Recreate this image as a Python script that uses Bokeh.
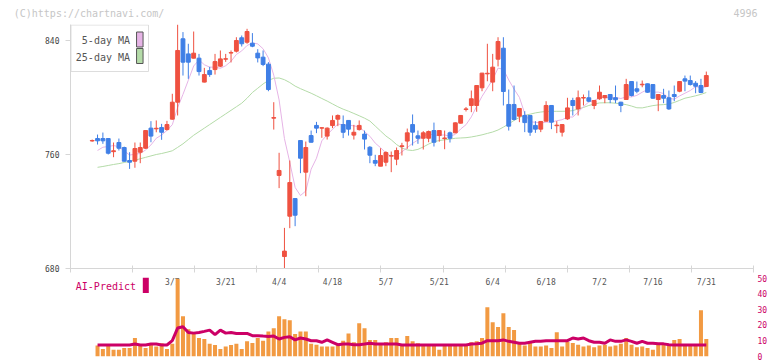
import math
from bokeh.plotting import figure
from bokeh.models import Range1d, FixedTicker, ColumnDataSource, LinearAxis
from bokeh.layouts import column
from bokeh.embed import file_html
from bokeh.resources import INLINE
from bokeh.core.properties import value

# ---------------- data ----------------
NAN = float("nan")
OPEN = [769.5, 771.2, 771.2, 771.2, 762.0, 768.4, 764.9, 755.8, 755.3, 761.6,
        764.4, 778.5, 778.0, 778.9, 777.5, 784.8, 796.7, 841.2, 830.6, 827.6,
        827.6, 810.8, 818.9, 819.6, 822.0, 826.9, 831.2, 832.5, 841.9, 838.8,
        838.1, 831.1, 828.3, 823.4, 785.5, 745.3, 688.4, 716.7, 729.1, 769.8,
        747.6, 773.3, 780.4, 778.5, 772.9, 780.3, 784.8, 781.0, 783.9, 773.6,
        777.5, 774.3, 765.1, 755.8, 751.8, 754.6, 758.9, 756.7, 765.6, 769.4,
        781.0, 773.1, 771.4, 771.4, 776.8, 773.3, 771.2, 775.2, 775.2, 782.0,
        791.6, 794.4, 794.4, 806.8, 816.6, 810.8, 826.9, 834.6, 795.1, 795.1,
        786.9, 787.4, 787.4, 780.4, 777.8, 783.4, 794.4, 780.2, 775.7, 785.0,
        797.9, 792.0, 799.6, 799.8, 794.4, 799.1, 799.8, 802.1, 799.8, 796.7,
        798.6, 811.2, 806.1, 808.9, 809.6, 809.1, 798.6, 801.4, 799.8, 802.1,
        804.4, 813.1, 811.9, 810.0, 808.4, 807.7]
HIGH = [770.5, 774.0, 775.4, 771.5, 768.4, 771.2, 765.5, 761.6, 768.4, 768.4,
        777.0, 783.4, 783.9, 781.5, 783.6, 802.6, 851.2, 845.9, 837.7, 846.3,
        830.6, 820.8, 821.5, 830.6, 833.0, 830.6, 833.0, 842.3, 843.5, 848.2,
        845.2, 833.9, 833.0, 824.8, 796.7, 761.2, 708.5, 755.8, 729.3, 770.0,
        769.1, 776.8, 782.9, 779.0, 779.0, 787.4, 788.1, 787.4, 784.0, 780.8,
        783.9, 776.8, 765.9, 759.8, 764.4, 762.3, 762.1, 764.9, 768.2, 778.2,
        788.1, 776.8, 776.4, 776.8, 782.4, 777.0, 776.8, 776.1, 782.5, 787.6,
        793.3, 804.9, 808.6, 817.3, 837.7, 830.6, 842.3, 842.3, 805.6, 808.4,
        792.5, 790.4, 787.6, 783.4, 783.4, 797.4, 794.6, 783.4, 781.2, 799.8,
        799.8, 804.9, 802.1, 804.9, 798.0, 808.4, 801.6, 802.3, 808.4, 797.0,
        813.1, 811.4, 811.2, 811.9, 809.8, 809.3, 802.3, 806.1, 804.9, 808.4,
        811.4, 815.4, 815.4, 811.5, 813.1, 818.2]
LOW = [769.0, 767.0, 767.5, 760.0, 758.1, 762.8, 755.0, 749.9, 750.7, 753.9,
       764.0, 768.6, 775.6, 770.3, 776.8, 784.5, 787.4, 815.4, 813.1, 827.4,
       815.4, 810.6, 814.5, 816.1, 821.3, 825.0, 824.6, 831.6, 835.8, 837.7,
       835.3, 824.6, 822.0, 804.4, 777.5, 736.4, 680.0, 708.3, 709.7, 746.9,
       730.7, 768.4, 775.0, 771.7, 770.5, 778.5, 779.9, 771.5, 773.3, 770.5,
       776.8, 763.5, 753.9, 751.8, 751.8, 751.8, 747.6, 752.5, 759.3, 764.0,
       766.3, 767.5, 763.5, 768.6, 765.6, 769.0, 763.7, 768.4, 775.0, 781.8,
       790.2, 789.7, 790.0, 804.4, 811.4, 804.4, 821.8, 794.4, 776.8, 783.9,
       782.7, 775.7, 773.1, 775.2, 775.7, 783.2, 777.8, 775.0, 772.6, 784.3,
       787.4, 787.4, 794.4, 796.7, 791.8, 798.4, 796.0, 796.0, 796.0, 789.7,
       798.4, 800.7, 803.0, 807.2, 803.3, 799.1, 790.4, 796.0, 791.3, 797.4,
       803.7, 804.4, 808.4, 803.0, 803.0, 807.5]
CLOSE = [769.8, 769.6, 769.6, 760.9, 762.6, 764.4, 755.3, 754.6, 764.2, 764.9,
         776.8, 772.9, 778.4, 775.6, 781.0, 796.7, 833.0, 824.8, 824.8, 831.1,
         818.2, 816.1, 816.1, 825.2, 827.1, 827.2, 831.5, 840.0, 837.7, 846.3,
         836.0, 827.8, 823.2, 805.6, 785.9, 748.8, 692.2, 740.3, 717.4, 757.4,
         764.9, 768.6, 778.5, 778.8, 778.5, 783.9, 787.4, 775.6, 777.8, 775.6,
         780.4, 770.8, 759.5, 753.9, 759.3, 761.4, 759.2, 762.8, 766.1, 775.2,
         775.7, 771.4, 775.2, 776.1, 768.6, 776.8, 771.6, 771.4, 782.2, 787.4,
         792.0, 799.1, 808.4, 817.1, 817.0, 821.3, 839.3, 804.2, 779.9, 784.6,
         792.3, 782.4, 775.7, 777.8, 783.2, 794.4, 782.7, 780.6, 781.0, 792.7,
         794.4, 799.8, 800.0, 797.4, 797.9, 803.7, 801.4, 798.6, 798.4, 794.4,
         809.1, 801.4, 804.4, 809.3, 803.7, 799.5, 802.1, 799.5, 792.0, 800.7,
         811.2, 811.5, 809.1, 807.9, 803.5, 815.4]
MA5 = [NAN, 762.8, 765.1, 765.6, 766.3, 765.4, 762.6, 759.6, 760.2, 760.7,
       763.2, 766.7, 771.4, 773.7, 776.9, 780.9, 792.9, 802.2, 812.1, 822.1,
       826.4, 823.0, 821.3, 821.3, 820.5, 822.3, 825.4, 830.2, 832.7, 836.5,
       838.3, 837.6, 834.2, 827.8, 815.7, 798.3, 771.1, 754.6, 736.9, 731.2,
       734.4, 749.7, 757.4, 769.6, 773.9, 777.7, 781.4, 780.8, 780.6, 780.1,
       779.4, 776.0, 772.8, 768.0, 764.8, 761.0, 758.7, 759.3, 761.8, 764.9,
       767.8, 770.2, 772.7, 774.7, 773.4, 773.6, 773.7, 772.9, 774.1, 777.9,
       780.9, 786.4, 793.8, 800.8, 806.7, 812.6, 820.6, 819.8, 812.3, 805.9,
       800.1, 788.7, 783.0, 782.6, 782.3, 782.7, 782.8, 783.7, 784.4, 786.3,
       786.3, 789.7, 793.6, 796.9, 797.9, 799.8, 800.1, 799.8, 800.0, 799.3,
       800.4, 800.4, 801.5, 803.7, 805.6, 803.7, 803.8, 802.8, 799.4, 798.8,
       801.1, 803.0, 804.9, 807.6, 807.0, 807.5]
MA25 = [NAN, 751.0, 751.6, 752.3, 753.0, 753.6, 754.4, 755.2, 756.0, 757.0,
        758.0, 759.0, 760.0, 760.7, 761.6, 762.6, 765.0, 767.5, 770.5, 773.5,
        776.0, 778.5, 781.0, 783.5, 786.0, 788.5, 791.0, 793.5, 796.0, 799.5,
        803.5, 806.5, 809.5, 812.0, 813.5, 813.7, 812.5, 810.5, 808.0, 806.2,
        804.6, 803.0, 801.2, 799.3, 797.5, 795.5, 793.5, 791.8, 790.4, 788.8,
        787.2, 785.5, 783.5, 780.0, 776.5, 773.0, 770.3, 767.0, 764.5, 763.2,
        762.8, 763.6, 765.3, 767.3, 769.0, 769.8, 770.3, 770.8, 771.4, 771.6,
        771.8, 772.3, 773.0, 773.8, 774.8, 775.8, 777.2, 779.2, 781.5, 783.9,
        786.0, 787.4, 788.3, 789.2, 789.8, 790.2, 790.3, 790.3, 790.3, 790.4,
        790.8, 792.0, 793.0, 794.4, 795.4, 796.2, 796.3, 796.3, 796.0, 795.6,
        795.0, 794.0, 792.8, 792.7, 793.5, 794.3, 794.8, 795.0, 795.5, 796.5,
        798.0, 799.5, 800.3, 801.2, 802.2, 803.5]
VOLUME = [NAN, 6.9, 4.8, 6.9, 4.2, 4.2, 5.4, 5.4, 11.7, 6.9,
          5.4, 8.4, 6.3, 8.4, 4.8, 8.0, 49.2, 25.4, 17.3, 14.2,
          11.7, 11.1, 8.0, 7.3, 4.8, 6.3, 7.3, 8.0, 4.8, 9.6,
          8.6, 11.7, 10.0, 15.9, 17.9, 25.4, 23.6, 22.9, 14.2, 15.9,
          15.9, 8.0, 7.5, 6.3, 6.3, 6.3, 8.0, 10.0, 14.6, 9.0,
          21.1, 17.9, 10.4, 10.4, 7.3, 9.0, 11.7, 11.7, 6.9, 12.9,
          9.6, 8.4, 6.9, 6.9, 6.9, 4.2, 6.9, 6.9, 6.9, 6.9,
          6.9, 9.0, 9.6, 11.7, 31.1, 21.7, 18.6, 27.3, 18.6, 16.7,
          8.0, 6.9, 9.0, 6.3, 6.3, 6.9, 5.4, 15.4, 6.3, 9.2,
          8.6, 7.5, 6.3, 6.9, 5.9, 6.9, 7.5, 6.3, 6.9, 8.0,
          11.7, 7.5, 5.9, 6.3, 5.4, 4.2, 7.3, 7.3, 6.9, 10.4,
          11.1, 6.9, 6.9, 6.9, 29.2, 11.1]
AI_PREDICT = [NAN, 7.3, 7.3, 7.3, 7.3, 7.3, 7.3, 7.3, 7.9, 7.3,
              7.3, 7.9, 7.9, 7.3, 7.3, 10.0, 18.0, 18.8, 15.2, 14.8,
              15.2, 15.9, 16.7, 13.8, 16.7, 14.8, 15.2, 14.6, 14.6, 14.6,
              13.2, 13.2, 12.9, 12.7, 12.9, 11.1, 12.1, 12.5, 10.5, 11.7,
              11.1, 10.0, 10.0, 9.0, 10.5, 9.0, 7.5, 7.9, 7.9, 7.5,
              7.5, 7.9, 8.4, 7.9, 7.9, 7.9, 7.9, 7.9, 7.3, 7.3,
              7.3, 7.3, 7.3, 7.3, 7.3, 7.3, 7.3, 7.3, 7.3, 7.3,
              7.3, 7.9, 8.1, 8.4, 10.0, 10.0, 10.0, 10.5, 9.6, 9.0,
              8.4, 8.4, 9.0, 9.6, 9.6, 10.0, 10.0, 10.0, 10.0, 10.0,
              11.7, 11.1, 11.7, 10.0, 9.0, 9.0, 8.4, 10.5, 9.6, 9.6,
              10.5, 9.6, 8.4, 9.6, 8.4, 8.4, 8.0, 8.0, 7.5, 7.3,
              7.3, 7.3, 7.3, 7.3, 7.3, 7.3]
DATE_LABELS = ["3/7", "3/21", "4/4", "4/18", "5/7", "5/21", "6/4", "6/18", "7/2", "7/16", "7/31"]
DATE_LABEL_IDX = [15, 25, 35, 45, 55, 65, 75, 85, 95, 105, 115]
PRICE_TICKS = [680, 760, 840]
VOLUME_TICKS = [0, 10, 20, 30, 40, 50]
LEGEND_LABELS = ["5-day MA", "25-day MA"]
WATERMARK = "(C)https://chartnavi.com/"
CODE = "4996"

# ---------------- styles / geometry ----------------
FONT = "DejaVu Sans Mono"
RED = "#ef5140"
BLUE = "#3f7fe6"
PINK = "#e6b4e6"
GREEN = "#b4dba8"
ORANGE = "#f29a42"
MAGENTA = "#cc0066"
AXIS_GRAY = "#d6d6d6"
HEADER_GRAY = "#c6c6c6"

W = 772
LEFT, RIGHT = 70, 19
PX_PER_BAR = 5.34
FIRST_BAR_PX = 21.7
frame_w = W - LEFT - RIGHT
x_start = -FIRST_BAR_PX / PX_PER_BAR
x_end = x_start + frame_w / PX_PER_BAR

MAIN_TOP, MAIN_FRAME_H, MAIN_BOTTOM = 24, 244, 6
MAIN_H = MAIN_TOP + MAIN_FRAME_H + MAIN_BOTTOM
PX_PER_YEN = 1.425
price_lo = PRICE_TICKS[0]
price_hi = price_lo + MAIN_FRAME_H / PX_PER_YEN

VOL_TOP, VOL_FRAME_H, VOL_BOTTOM = 3, 79, 5
VOL_H = VOL_TOP + VOL_FRAME_H + VOL_BOTTOM
vol_hi = VOLUME_TICKS[-1]
vol_px = VOL_FRAME_H / vol_hi


def fx(px):
    """data x for a pixel offset from the frame's left edge"""
    return x_start + px / PX_PER_BAR


def fy(px):
    """price for a pixel offset below the price frame's top edge"""
    return price_hi - px / PX_PER_YEN


def vy(px):
    """volume value for a pixel offset below the volume frame's top edge"""
    return vol_hi - px / vol_px


N = len(CLOSE)
idx = list(range(N))
colors = [RED if c >= o else BLUE for o, c in zip(OPEN, CLOSE)]
src = ColumnDataSource(dict(
    x=idx, h=HIGH, l=LOW,
    top=[max(o, c) for o, c in zip(OPEN, CLOSE)],
    bottom=[min(o, c) for o, c in zip(OPEN, CLOSE)],
    color=colors))

# ---------------- main price chart ----------------
p = figure(width=W, height=MAIN_H, x_range=Range1d(x_start, x_end),
           y_range=Range1d(price_lo, price_hi), output_backend="svg",
           toolbar_location=None, title=None, min_border_left=LEFT, min_border_right=RIGHT,
           min_border_top=MAIN_TOP, min_border_bottom=MAIN_BOTTOM)
p.outline_line_color = None
p.grid.visible = False
p.background_fill_color = "white"
p.border_fill_color = "white"

xa = p.below[0]
xa.ticker = FixedTicker(ticks=[], minor_ticks=[x_start + k * (x_end - x_start) / 11 for k in range(12)])
xa.major_label_text_font_size = "0px"
xa.major_label_standoff = 0
xa.major_tick_in = 0
xa.major_tick_out = 0
xa.minor_tick_in = 3
xa.minor_tick_out = 4
xa.minor_tick_line_color = AXIS_GRAY
xa.axis_line_color = AXIS_GRAY

ya = p.left[0]
ya.ticker = FixedTicker(ticks=PRICE_TICKS)
ya.major_tick_in = 0
ya.major_tick_out = 5
ya.minor_tick_line_color = None
ya.axis_line_color = AXIS_GRAY
ya.major_tick_line_color = AXIS_GRAY
ya.major_label_text_font = FONT
ya.major_label_text_font_size = "8px"
ya.major_label_text_color = "#444444"
ya.major_label_standoff = 6

# header line (watermark left, code right) as labels of a bare top axis
hdr_ticks = [fx(18.5), fx(675)]
top_axis = LinearAxis(ticker=FixedTicker(ticks=hdr_ticks),
                      major_label_overrides={hdr_ticks[0]: WATERMARK, hdr_ticks[1]: CODE},
                      axis_line_color=None, major_tick_line_color=None,
                      minor_tick_line_color=None, major_tick_in=0, major_tick_out=0,
                      major_label_standoff=6, major_label_text_font=FONT,
                      major_label_text_font_size="10px", major_label_text_color=HEADER_GRAY)
p.add_layout(top_axis, "above")

p.line(idx, MA25, line_color=GREEN, line_width=1)
p.line(idx, MA5, line_color=PINK, line_width=1)
p.segment(x0="x", y0="l", x1="x", y1="h", line_color="color", line_width=1, source=src)
p.vbar(x="x", width=0.72, top="top", bottom="bottom", fill_color="color",
       line_color="color", line_width=1, source=src)

# legend box (label then swatch, as in the original)
p.quad(left=[fx(0.5)], right=[fx(78)], top=[fy(0.5)], bottom=[fy(47)],
       fill_color="white", line_color="#dddddd", line_width=1)
p.text(x=[fx(59.5)] * 2, y=[fy(16), fy(33)], text=LEGEND_LABELS,
       text_align="right", text_baseline="middle", text_font=value(FONT),
       text_font_size="10px", text_color="#555555")
p.rect(x=[fx(69.3)] * 2, y=[fy(15), fy(31.5)], width=6.5 / PX_PER_BAR,
       height=15 / PX_PER_YEN, fill_color=[PINK, GREEN], line_color="#555555", line_width=1)

# ---------------- volume / AI-Predict chart ----------------
v = figure(width=W, height=VOL_H, x_range=p.x_range, y_range=Range1d(0, vol_hi),
           x_axis_location=None, y_axis_location="right", output_backend="svg",
           toolbar_location=None, title=None, min_border_left=LEFT, min_border_right=RIGHT,
           min_border_top=VOL_TOP, min_border_bottom=VOL_BOTTOM)
v.outline_line_color = None
v.grid.visible = False
va = v.right[0]
va.ticker = FixedTicker(ticks=VOLUME_TICKS)
va.axis_line_color = None
va.major_tick_line_color = None
va.minor_tick_line_color = None
va.major_tick_in = 0
va.major_tick_out = 0
va.major_label_text_font = FONT
va.major_label_text_font_size = "8px"
va.major_label_text_color = MAGENTA
va.major_label_standoff = 4

v.text(x=DATE_LABEL_IDX, y=[vy(5)] * len(DATE_LABEL_IDX), text=DATE_LABELS,
       text_align="center", text_baseline="middle", text_font=value(FONT),
       text_font_size="8px", text_color="#555555")
v.vbar(x=idx, top=VOLUME, bottom=0, width=0.75, fill_color=ORANGE, line_color=None)
v.line(idx, AI_PREDICT, line_color=MAGENTA, line_width=3)
v.text(x=[fx(5.3)], y=[vy(9.3)], text=["AI-Predict"], text_align="left",
       text_baseline="middle", text_font=value(FONT), text_font_size="10px",
       text_color=MAGENTA)
v.rect(x=[fx(75.3)], y=[vy(7.8)], width=6 / PX_PER_BAR, height=15.5 / vol_px,
       fill_color=MAGENTA, line_color=None)

layout = column(p, v, spacing=0)
open("out.html", "w").write(file_html(layout, INLINE))
